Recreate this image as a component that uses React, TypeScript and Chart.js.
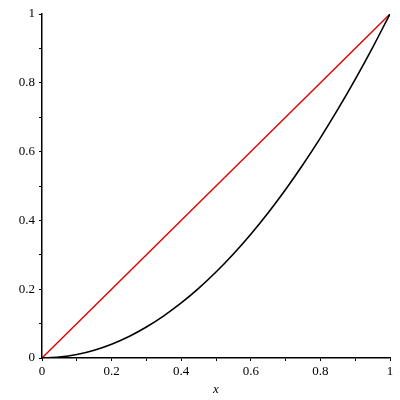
import React, { useEffect, useRef } from "react";
import { Chart, registerables } from "chart.js";

Chart.register(...registerables);

const xValues = [0, 0.05, 0.1, 0.15, 0.2, 0.25, 0.3, 0.35, 0.4, 0.45, 0.5, 0.55, 0.6, 0.65, 0.7, 0.75, 0.8, 0.85, 0.9, 0.95, 1];
const curveValues = [0, 0.0025, 0.01, 0.0225, 0.04, 0.0625, 0.09, 0.1225, 0.16, 0.2025, 0.25, 0.3025, 0.36, 0.4225, 0.49, 0.5625, 0.64, 0.7225, 0.81, 0.9025, 1];
const lineX = [0, 1];
const lineY = [0, 1];
const tickLabels: Record<string, string> = { "0": "0", "0.2": "0.2", "0.4": "0.4", "0.6": "0.6", "0.8": "0.8", "1": "1" };
const xTitle = "x";

const FONT = "'Liberation Serif', 'Times New Roman', serif";

function label(v: number) {
  const k = String(Math.round(v * 10) / 10);
  return tickLabels[k] ?? "";
}

export default function App() {
  const ref = useRef<HTMLCanvasElement | null>(null);
  useEffect(() => {
    if (!ref.current) return;
    const chart = new Chart(ref.current, {
      type: "scatter",
      data: {
        datasets: [
          {
            data: xValues.map((x, i) => ({ x, y: curveValues[i] })),
            showLine: true,
            borderColor: "#000000",
            borderWidth: 1.6,
            pointRadius: 0,
            cubicInterpolationMode: "monotone",
          },
          {
            data: lineX.map((x, i) => ({ x, y: lineY[i] })),
            showLine: true,
            borderColor: "#e00000",
            borderWidth: 1.4,
            pointRadius: 0,
          },
        ],
      },
      options: {
        animation: false,
        responsive: false,
        maintainAspectRatio: false,
        layout: { padding: { top: 14, right: 10, left: 0, bottom: 0 } },
        plugins: { legend: { display: false }, tooltip: { enabled: false } },
        scales: {
          x: {
            type: "linear",
            min: 0,
            max: 1,
            afterFit: (s: any) => { s.height = 42; },
            afterBuildTicks: (s: any) => {
              s.ticks = [0, 0.1, 0.2, 0.3, 0.4, 0.5, 0.6, 0.7, 0.8, 0.9, 1].map((v) => ({ value: v }));
            },
            ticks: {
              autoSkip: false,
              maxRotation: 0,
              padding: 3,
              color: "#000",
              font: { family: FONT, size: 13 },
              callback: (v: any) => label(Number(v)),
            },
            grid: { drawOnChartArea: false, drawTicks: true, tickLength: 3, tickColor: "#000", tickWidth: 1 },
            border: { display: true, color: "#000", width: 1.5 },
            title: {
              display: true,
              text: xTitle,
              color: "#000",
              font: { family: FONT, size: 13, style: "italic" },
              padding: { top: 0, bottom: 3 },
            },
          },
          y: {
            type: "linear",
            min: 0,
            max: 1,
            afterFit: (s: any) => { s.width = 42; },
            afterBuildTicks: (s: any) => {
              s.ticks = [0, 0.1, 0.2, 0.3, 0.4, 0.5, 0.6, 0.7, 0.8, 0.9, 1].map((v) => ({ value: v }));
            },
            ticks: {
              autoSkip: false,
              padding: 4,
              color: "#000",
              font: { family: FONT, size: 13 },
              callback: (v: any) => label(Number(v)),
            },
            grid: { drawOnChartArea: false, drawTicks: true, tickLength: 3, tickColor: "#000", tickWidth: 1 },
            border: { display: true, color: "#000", width: 1.5 },
          },
        },
      },
    } as any);
    return () => chart.destroy();
  }, []);
  return (
    <div style={{ position: "fixed", left: 0, top: 0, width: 400, height: 400, background: "#fff" }}>
      <canvas ref={ref} width={400} height={400} style={{ width: 400, height: 400, display: "block" }} />
    </div>
  );
}
